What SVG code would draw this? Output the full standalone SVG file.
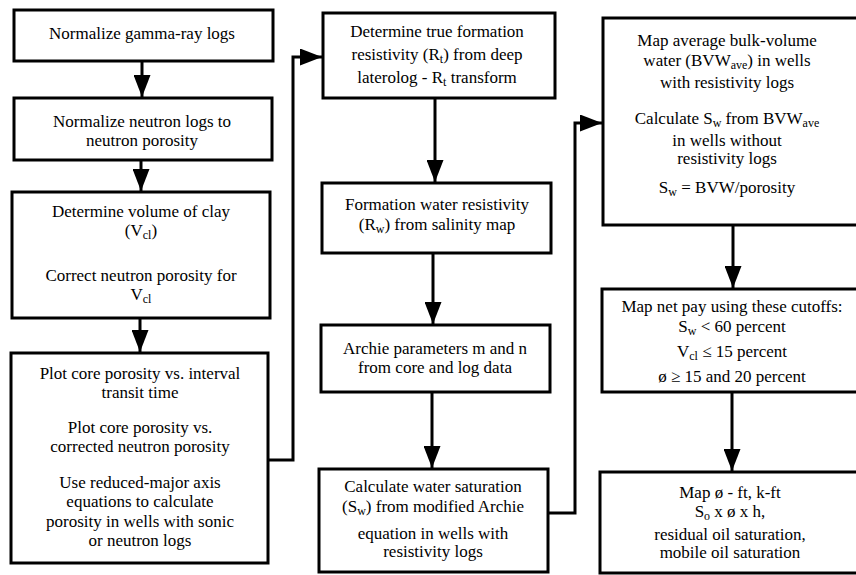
<svg xmlns="http://www.w3.org/2000/svg" width="856" height="575" viewBox="0 0 856 575">
<style>
.box{fill:#fff;stroke:#000;stroke-width:3}
.con{fill:none;stroke:#000;stroke-width:3}
.t text{font-size:17px;fill:#000;text-anchor:middle}
.sub{font-size:12px}
</style>
<defs>
<marker id="ah" viewBox="0 0 22 17" refX="22" refY="8.5" markerWidth="22" markerHeight="17" markerUnits="userSpaceOnUse" orient="auto">
<path d="M0,0 L22,8.5 L0,17 z" fill="#000"/>
</marker>
</defs>
<rect width="856" height="575" fill="#fff"/>
<g id="connectors">
<line class="con" x1="142" y1="61" x2="142" y2="97" marker-end="url(#ah)"/>
<line class="con" x1="141" y1="160" x2="141" y2="191" marker-end="url(#ah)"/>
<line class="con" x1="140" y1="318" x2="140" y2="352" marker-end="url(#ah)"/>
<line class="con" x1="435" y1="98" x2="435" y2="182" marker-end="url(#ah)"/>
<line class="con" x1="433" y1="253" x2="433" y2="324" marker-end="url(#ah)"/>
<line class="con" x1="432" y1="392" x2="432" y2="468" marker-end="url(#ah)"/>
<line class="con" x1="733" y1="225" x2="733" y2="288" marker-end="url(#ah)"/>
<line class="con" x1="732" y1="392" x2="732" y2="471" marker-end="url(#ah)"/>
<polyline class="con" points="268,460 293,460 293,57 322,57" marker-end="url(#ah)"/>
<polyline class="con" points="548,513 575,513 575,123 602,123" marker-end="url(#ah)"/>
</g>
<g class="t" font-family="Liberation Serif, DejaVu Serif, serif">
<g id="n1"><rect class="box" x="14" y="10" width="259" height="51"/>
<text x="142" y="39">Normalize gamma-ray logs</text></g>
<g id="n2"><rect class="box" x="14" y="98" width="258" height="62"/>
<text x="142" y="127">Normalize neutron logs to</text>
<text x="142" y="146">neutron porosity</text></g>
<g id="n3"><rect class="box" x="12" y="192" width="258" height="126"/>
<text x="141" y="217">Determine volume of clay</text>
<text x="141" y="236">(V<tspan class="sub" dy="3">cl</tspan><tspan dy="-3">)</tspan></text>
<text x="141" y="281">Correct neutron porosity for</text>
<text x="141" y="300">V<tspan class="sub" dy="3">cl</tspan></text></g>
<g id="n4"><rect class="box" x="11" y="353" width="257" height="210"/>
<text x="140" y="379">Plot core porosity vs. interval</text>
<text x="140" y="398">transit time</text>
<text x="140" y="433">Plot core porosity vs.</text>
<text x="140" y="452">corrected neutron porosity</text>
<text x="140" y="488">Use reduced-major axis</text>
<text x="140" y="507">equations to calculate</text>
<text x="140" y="527">porosity in wells with sonic</text>
<text x="140" y="546">or neutron logs</text></g>
<g id="n5"><rect class="box" x="323" y="13" width="232" height="85"/>
<text x="437" y="37">Determine true formation</text>
<text x="437" y="60">resistivity (R<tspan class="sub" dy="3">t</tspan><tspan dy="-3">) from deep</tspan></text>
<text x="437" y="83">laterolog - R<tspan class="sub" dy="3">t</tspan><tspan dy="-3"> transform</tspan></text></g>
<g id="n6"><rect class="box" x="322" y="183" width="229" height="70"/>
<text x="437" y="210">Formation water resistivity</text>
<text x="437" y="230">(R<tspan class="sub" dy="3">w</tspan><tspan dy="-3">) from salinity map</tspan></text></g>
<g id="n7"><rect class="box" x="321" y="325" width="229" height="67"/>
<text x="435" y="354">Archie parameters m and n</text>
<text x="435" y="373">from core and log data</text></g>
<g id="n8"><rect class="box" x="319" y="469" width="229" height="103"/>
<text x="433" y="492">Calculate water saturation</text>
<text x="433" y="512">(S<tspan class="sub" dy="3">w</tspan><tspan dy="-3">) from modified Archie</tspan></text>
<text x="433" y="539">equation in wells with</text>
<text x="433" y="557">resistivity logs</text></g>
<g id="n9"><rect class="box" x="603" y="18" width="260" height="207"/>
<text x="727" y="46">Map average bulk-volume</text>
<text x="727" y="66">water (BVW<tspan class="sub" dy="3">ave</tspan><tspan dy="-3">) in wells</tspan></text>
<text x="727" y="88">with resistivity logs</text>
<text x="727" y="124">Calculate S<tspan class="sub" dy="3">w</tspan><tspan dy="-3"> from BVW</tspan><tspan class="sub" dy="3">ave</tspan></text>
<text x="727" y="146">in wells without</text>
<text x="727" y="164">resistivity logs</text>
<text x="727" y="193">S<tspan class="sub" dy="3">w</tspan><tspan dy="-3"> = BVW/porosity</tspan></text></g>
<g id="n10"><rect class="box" x="602" y="289" width="261" height="103"/>
<text x="732" y="312">Map net pay using these cutoffs:</text>
<text x="732" y="332">S<tspan class="sub" dy="3">w</tspan><tspan dy="-3"> &lt; 60 percent</tspan></text>
<text x="732" y="357">V<tspan class="sub" dy="3">cl</tspan><tspan dy="-3"> ≤ 15 percent</tspan></text>
<text x="732" y="382">ø ≥ 15 and 20 percent</text></g>
<g id="n11"><rect class="box" x="600" y="472" width="263" height="101"/>
<text x="730" y="498">Map ø - ft, k-ft</text>
<text x="730" y="517">S<tspan class="sub" dy="3">o</tspan><tspan dy="-3"> x ø x h,</tspan></text>
<text x="730" y="540">residual oil saturation,</text>
<text x="730" y="558">mobile oil saturation</text></g>
</g>
</svg>
